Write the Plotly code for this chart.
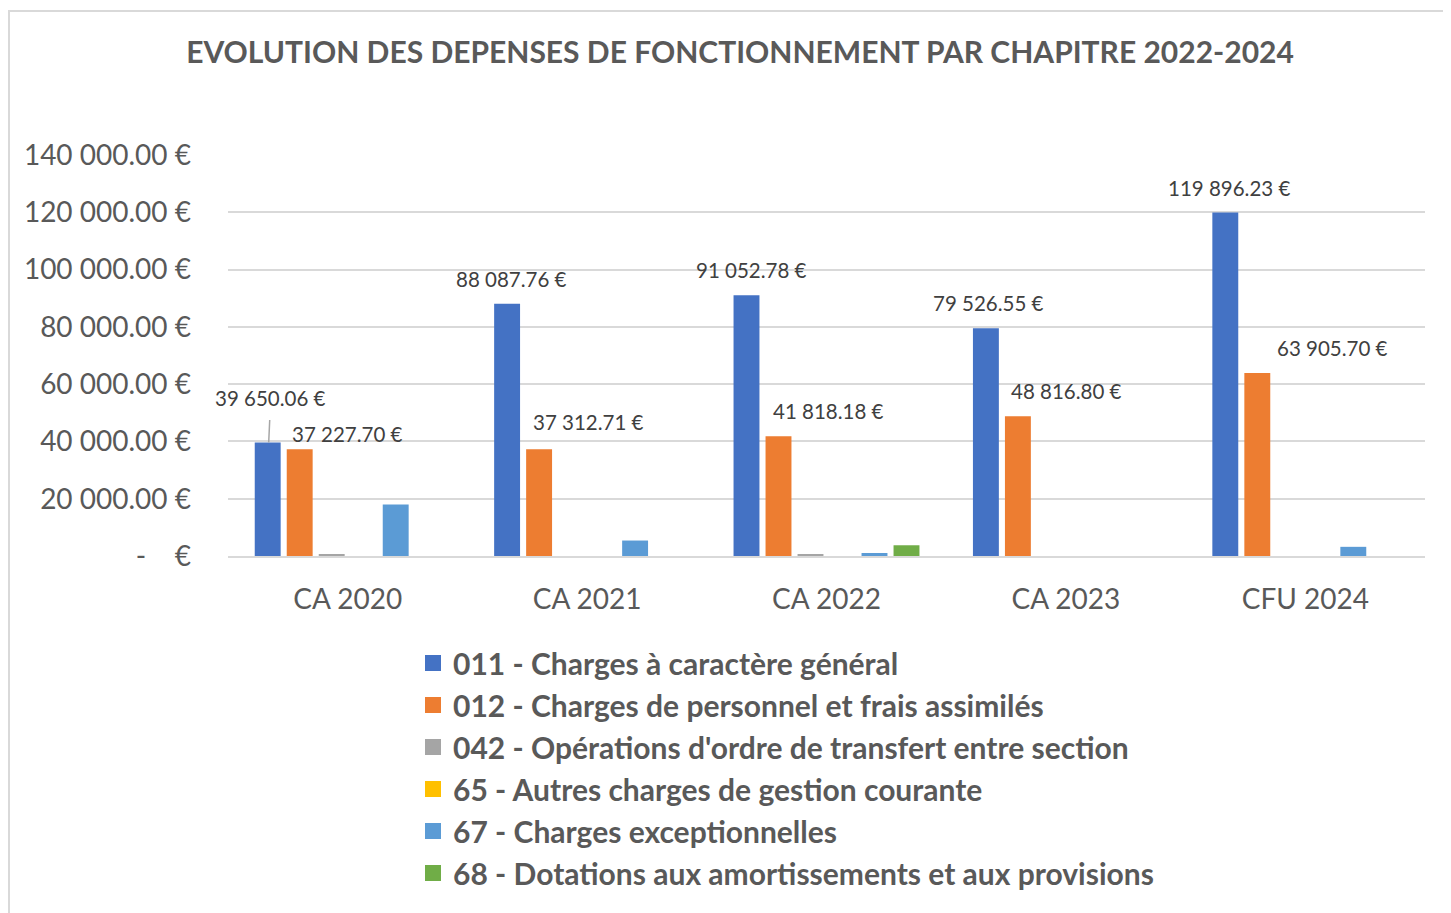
import plotly.graph_objects as go

categories = ["CA 2020", "CA 2021", "CA 2022", "CA 2023", "CFU 2024"]
series_names = [
    "011 - Charges à caractère général",
    "012 - Charges de personnel et frais assimilés",
    "042 - Opérations d'ordre de transfert entre section",
    "65 - Autres charges de gestion courante",
    "67 - Charges exceptionnelles",
    "68 - Dotations aux amortissements et aux provisions",
]
v011 = [39650.06, 88087.76, 91052.78, 79526.55, 119896.23]
v012 = [37227.70, 37312.71, 41818.18, 48816.80, 63905.70]
v042 = [600, 0, 600, 0, 0]
v65 = [0, 0, 0, 0, 0]
v67 = [18000, 5400, 1050, 0, 3200]
v68 = [0, 0, 3750, 0, 0]
series_values = [v011, v012, v042, v65, v67, v68]
colors = ["#4472C4", "#ED7D31", "#A5A5A5", "#FFC000", "#5B9BD5", "#70AD47"]

y_tickvals = [0, 20000, 40000, 60000, 80000, 100000, 120000, 140000]
y_ticktext = ["-    €", "20 000.00 €", "40 000.00 €", "60 000.00 €", "80 000.00 €",
              "100 000.00 €", "120 000.00 €", "140 000.00 €"]

W, H = 1451, 913
OFF = 8  # page body margin
ML, MR, MT, MB = 220, 34, 147, 365
PW, PH = W - ML - MR, H - MT - MB

def sx2paper(sx):
    return (sx - OFF - ML) / PW

def sy2paper(sy):
    return (H - MB - (sy - OFF)) / PH

def fmt(v):
    s = f"{v:,.2f}".replace(",", " ")
    return s + " €"

FONT = "Lato"
GREY = "#595959"

fig = go.Figure()
for name, vals, col in zip(series_names, series_values, colors):
    fig.add_trace(go.Bar(
        x=categories, y=vals, name=name, marker=dict(color=col, line=dict(width=0)),
        showlegend=False,
    ))
# legend entries (square symbols)
for name, col in zip(series_names, colors):
    fig.add_trace(go.Scatter(
        x=[None], y=[None], mode="markers", name=name,
        marker=dict(symbol="square", size=18, color=col),
    ))

# data labels (offsets are style, in pixels)
lbl_font = dict(family=FONT, size=20.5, color="#404040")
blue_dx = [-77, -76, -75, -77, -76]
orange_dx = [0, 1, 2, 1, 27]
orange_dy = [15, 27, 25, 25, 25]
for i, c in enumerate(categories):
    if i == 0:
        fig.add_annotation(x=c, y=v011[i], xref="x", yref="y", text=fmt(v011[i]),
                           showarrow=True, arrowhead=0, arrowwidth=1.5, arrowcolor="#A6A6A6",
                           ax=2, ay=-44, xshift=-79, startstandoff=8, font=lbl_font)
    else:
        fig.add_annotation(x=c, y=v011[i], xref="x", yref="y", text=fmt(v011[i]),
                           showarrow=False, xshift=blue_dx[i], yshift=25, font=lbl_font)
    fig.add_annotation(x=c, y=v012[i], xref="x", yref="y", text=fmt(v012[i]),
                       showarrow=False, xshift=orange_dx[i], yshift=orange_dy[i], font=lbl_font)

# chart border
fig.add_shape(type="rect", xref="paper", yref="paper",
              x0=sx2paper(9), x1=sx2paper(1480), y0=sy2paper(960), y1=sy2paper(11),
              line=dict(color="#D9D9D9", width=2), fillcolor="rgba(0,0,0,0)", layer="below")

fig.update_layout(
    width=W, height=H,
    margin=dict(l=ML, r=MR, t=MT, b=MB, autoexpand=False),
    paper_bgcolor="white", plot_bgcolor="white",
    barmode="group", bargap=0.198, bargroupgap=0.19,
    title=dict(text="<b>EVOLUTION DES DEPENSES DE FONCTIONNEMENT PAR CHAPITRE 2022-2024</b>",
               x=(740 - OFF) / W, xanchor="center", xref="container",
               y=1 - (52 - OFF) / H, yanchor="middle", yref="container",
               font=dict(family=FONT, size=30, color=GREY)),
    xaxis=dict(range=[-0.5, 4.5], autorange=False, showgrid=False, showline=True,
               linecolor="#D9D9D9", linewidth=2,
               tickfont=dict(family=FONT, size=28, color=GREY), ticks="", ticklabelstandoff=17,
               tickangle=0, automargin=False),
    yaxis=dict(range=[0, 140000], autorange=False, tickvals=y_tickvals, ticktext=y_ticktext,
               showgrid=True, gridcolor="#D9D9D9", gridwidth=2, zeroline=False,
               tickfont=dict(family=FONT, size=28, color=GREY), ticks="", ticklabelstandoff=36,
               automargin=False),
    legend=dict(orientation="v", xref="container", yref="container",
                x=(453 - OFF - 40) / W, xanchor="left", y=1 - (637 - OFF) / H, yanchor="top",
                font=dict(family=FONT, size=30, color=GREY, weight="bold"),
                tracegroupgap=0, itemclick=False, itemsizing="trace"),
    showlegend=True,
)

fig.write_html("out.html")
